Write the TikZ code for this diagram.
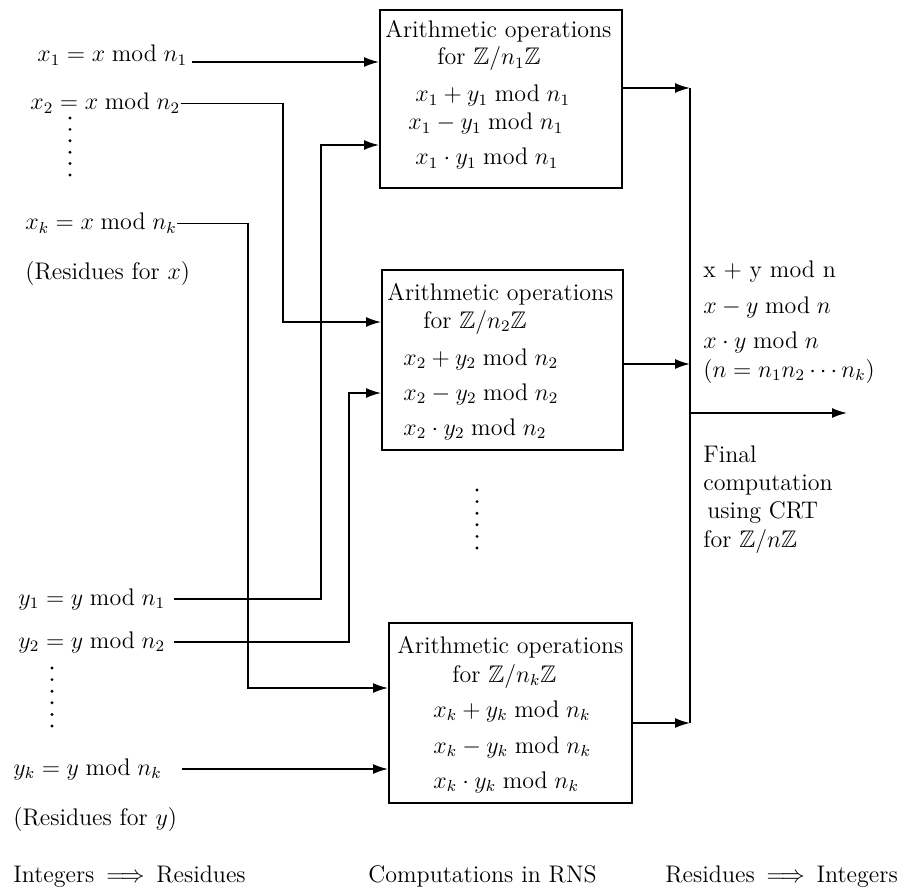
\documentclass[tikz,border=0pt]{standalone}
\usepackage{amsmath,amssymb}
\usetikzlibrary{arrows.meta}
\begin{document}
\begin{tikzpicture}[x=0.5pt,y=-0.5pt,
  lab/.style={anchor=base west,inner sep=0pt,font=\fontsize{12}{14}\selectfont},
  opbox/.style={draw,line width=1pt,inner sep=0pt},
  wire/.style={line width=0.8pt},
  arr/.style={wire,-{Latex[length=7.5pt,width=5pt]}}]
\useasboundingbox (0,0) rectangle (908,887);

% operation boxes
\node[opbox,minimum width=121pt,minimum height=89pt] (b1) at (501,99) {};
\node[opbox,minimum width=120.5pt,minimum height=90pt] (b2) at (502.5,360) {};
\node[opbox,minimum width=121.5pt,minimum height=90pt] (b3) at (510.5,713) {};

% box 1 contents
\node[lab] (b1t1) at (385,38) {Arithmetic operations};
\node[lab] (b1t2) at (437,65) {for $\mathbb{Z}/n_1\mathbb{Z}$};
\node[lab] (b1t3) at (415,102) {$x_1+y_1 \bmod n_1$};
\node[lab] (b1t4) at (408,130) {$x_1-y_1 \bmod n_1$};
\node[lab] (b1t5) at (415,165) {$x_1\cdot y_1 \bmod n_1$};

% box 2 contents
\node[lab] (b2t1) at (387,300) {Arithmetic operations};
\node[lab] (b2t2) at (423,328) {for $\mathbb{Z}/n_2\mathbb{Z}$};
\node[lab] (b2t3) at (403,365) {$x_2+y_2 \bmod n_2$};
\node[lab] (b2t4) at (403,400) {$x_2-y_2 \bmod n_2$};
\node[lab] (b2t5) at (403,435) {$x_2\cdot y_2 \bmod n_2$};

% box k contents
\node[lab] (b3t1) at (397,653) {Arithmetic operations};
\node[lab] (b3t2) at (452,682) {for $\mathbb{Z}/n_k\mathbb{Z}$};
\node[lab] (b3t3) at (433,717) {$x_k+y_k \bmod n_k$};
\node[lab] (b3t4) at (433,753) {$x_k-y_k \bmod n_k$};
\node[lab] (b3t5) at (433,788) {$x_k\cdot y_k \bmod n_k$};

% residues of x
\node[lab] (xa) at (37,62) {$x_1 = x \bmod n_1$};
\node[lab] (xb) at (30,110) {$x_2 = x \bmod n_2$};
\node[lab] (xk) at (25,230) {$x_k = x \bmod n_k$};
\node[lab] (rx) at (25,279) {(Residues for $x$)};

% residues of y
\node[lab] (ya) at (18,605) {$y_1 = y \bmod n_1$};
\node[lab] (yb) at (18,648) {$y_2 = y \bmod n_2$};
\node[lab] (yk) at (13,775) {$y_k = y \bmod n_k$};
\node[lab] (ry) at (13,825) {(Residues for $y$)};

% results
\node[lab] (r1) at (703,278) {x $+$ y mod n};
\node[lab] (r2) at (703,313) {$x - y \bmod n$};
\node[lab] (r3) at (703,348) {$x \cdot y \bmod n$};
\node[lab] (r4) at (703,377) {$(n = n_1 n_2 \cdots n_k)$};
\node[lab] (f1) at (703,462) {Final};
\node[lab] (f2) at (703,490) {computation};
\node[lab] (f3) at (707,518) {using CRT};
\node[lab] (f4) at (703,547) {for $\mathbb{Z}/n\mathbb{Z}$};

% stage captions
\node[lab] (s1) at (13,882) {Integers\hspace{2pt} $\Longrightarrow$\hspace{2pt} Residues};
\node[lab] (s2) at (368,882) {Computations in RNS};
\node[lab] (s3) at (665,882) {Residues\hspace{2pt} $\Longrightarrow$\hspace{2pt} Integers};

% omitted entries
\foreach \i in {0,...,5} {
  \fill (70,118+11.4*\i) circle (0.8pt);
  \fill (52,668+11.6*\i) circle (0.8pt);
  \fill (477,490+11.6*\i) circle (0.8pt);
}

% bends of the input wires
\coordinate (cxb) at (283,322);
\coordinate (cxk) at (248,688);
\coordinate (cya) at (321,145);
\coordinate (cyb) at (349,393);

% inputs
\draw[arr] ([xshift=2pt]xa.base east) -- (b1.west |- xa.base east);
\draw[arr] (xb.east) -| (cxb) -- (b2.west |- cxb);
\draw[arr] (xk.east) -| (cxk) -- (b3.west |- cxk);
\draw[arr] ([xshift=4pt]ya.east) -| (cya) -- (b1.west |- cya);
\draw[arr] ([xshift=4pt]yb.east) -| (cyb) -- (b2.west |- cyb);
\draw[arr] ([xshift=10pt]yk.east) -- (b3.west |- yk.east);

% outputs and recombination
\coordinate (j1) at (690,88);
\coordinate (j2) at (690,364);
\coordinate (j3) at (690,723);
\coordinate (jo) at (690,413);
\coordinate (res) at (847,413);
\draw[arr] (b1.east |- j1) -- (j1);
\draw[arr] (b2.east |- j2) -- (j2);
\draw[arr] (b3.east |- j3) -- (j3);
\draw[wire] (j1) -- (j3);
\draw[arr] (jo) -- (res);
\end{tikzpicture}
\end{document}
